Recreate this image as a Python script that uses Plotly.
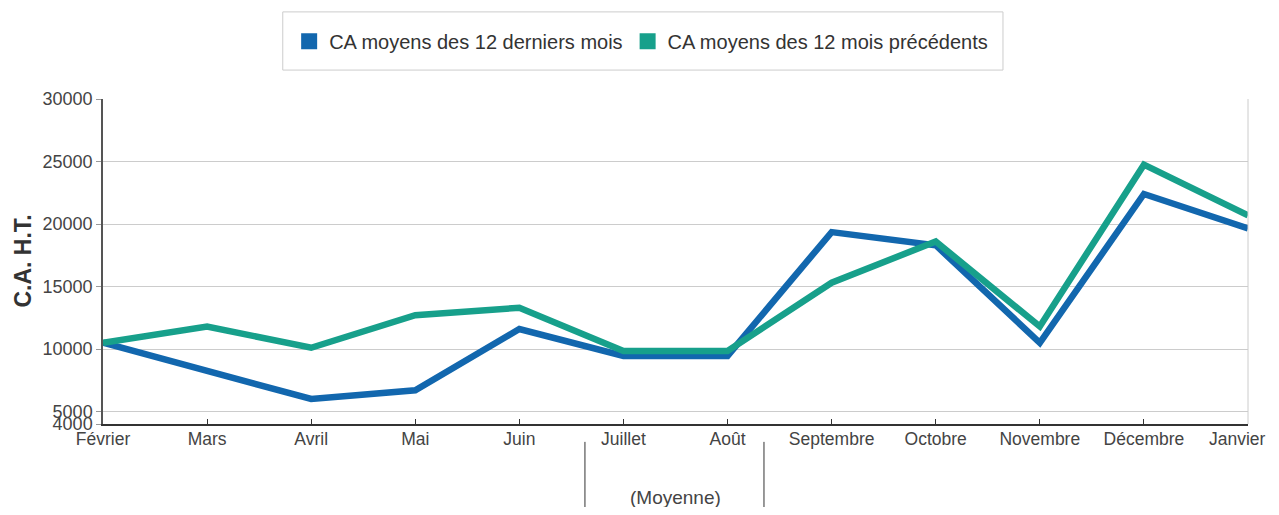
import plotly.graph_objects as go

months = ["Février", "Mars", "Avril", "Mai", "Juin", "Juillet", "Août",
          "Septembre", "Octobre", "Novembre", "Décembre", "Janvier"]
ca_derniers = [10500, 8200, 6000, 6700, 11600, 9450, 9450,
               19350, 18300, 10500, 22400, 19650]
ca_precedents = [10500, 11800, 10100, 12700, 13300, 9850, 9850,
                 15300, 18600, 11800, 24750, 20700]
y_ticks = [4000, 5000, 10000, 15000, 20000, 25000, 30000]
y_tick_text = [str(v) for v in y_ticks]
name_derniers = "CA moyens des 12 derniers mois"
name_precedents = "CA moyens des 12 mois précédents"

blue = "#1267ae"
green = "#17a08b"
font_family = "Liberation Sans, Arial, sans-serif"

# last month label is drawn as an annotation so it is not cut at the right edge
x_tick_text = months[:-1] + [""]

fig = go.Figure()
fig.add_trace(go.Scatter(x=months, y=ca_derniers, mode="lines", showlegend=False,
                         line=dict(color=blue, width=6.5), name=name_derniers))
fig.add_trace(go.Scatter(x=months, y=ca_precedents, mode="lines", showlegend=False,
                         line=dict(color=green, width=6.5), name=name_precedents))
# legend entries with square markers
fig.add_trace(go.Scatter(x=[None], y=[None], mode="markers", name=name_derniers,
                         marker=dict(symbol="square", size=19, color=blue)))
fig.add_trace(go.Scatter(x=[None], y=[None], mode="markers", name=name_precedents,
                         marker=dict(symbol="square", size=19, color=green)))

fig.update_layout(
    width=1271, height=499,
    margin=dict(l=95, r=31, t=91, b=83, autoexpand=False),
    paper_bgcolor="white", plot_bgcolor="white",
    font=dict(family=font_family, color="#444", size=17),
    legend=dict(orientation="h", x=0.470, xanchor="center", y=1.178, yanchor="middle",
                font=dict(size=20, color="#333"), bgcolor="rgba(0,0,0,0)",
                itemwidth=30, tracegroupgap=0),
    xaxis=dict(range=[0, 11], showgrid=False, showline=True, linecolor="#333",
               linewidth=1.5, ticks="inside", ticklen=5, tickcolor="#333",
               tickmode="array", tickvals=months, ticktext=x_tick_text,
               tickfont=dict(size=17.5, color="#444"), automargin=False,
               ticklabelstandoff=-2),
    yaxis=dict(range=[4000, 30000], tickvals=y_ticks, ticktext=y_tick_text,
               showgrid=True, gridcolor="#cccccc", gridwidth=1, showline=True,
               linecolor="#555", linewidth=1.5, ticks="outside", ticklen=5,
               tickcolor="#999999", tickfont=dict(size=18, color="#444"),
               zeroline=False, automargin=False),
    shapes=[
        dict(type="rect", xref="paper", yref="paper", x0=0.157, x1=0.786,
             y0=1.089, y1=1.268, line=dict(color="#cccccc", width=1), layer="below"),
        dict(type="line", xref="paper", yref="paper", x0=1, x1=1, y0=0, y1=1,
             line=dict(color="#cccccc", width=1)),
        dict(type="line", xref="x", yref="paper", x0=4.63, x1=4.63, y0=-0.055, y1=-0.28,
             line=dict(color="#333", width=1)),
        dict(type="line", xref="x", yref="paper", x0=6.35, x1=6.35, y0=-0.055, y1=-0.28,
             line=dict(color="#333", width=1)),
    ],
    annotations=[
        dict(text=months[-1], xref="x", yref="paper", x=months[-1], y=-0.045,
             xanchor="right", yanchor="middle", xshift=20, showarrow=False,
             font=dict(size=17.5, color="#444")),
        dict(text="(Moyenne)", xref="x", yref="paper", x=5.5, y=-0.225,
             showarrow=False, font=dict(size=19, color="#444"), yanchor="middle"),
        dict(text="<b>C.A. H.T.</b>", xref="paper", yref="paper", x=-0.0707, y=0.5,
             textangle=-90, showarrow=False, font=dict(size=23, color="#333"),
             xanchor="center", yanchor="middle"),
    ],
)

fig.write_html("out.html")
